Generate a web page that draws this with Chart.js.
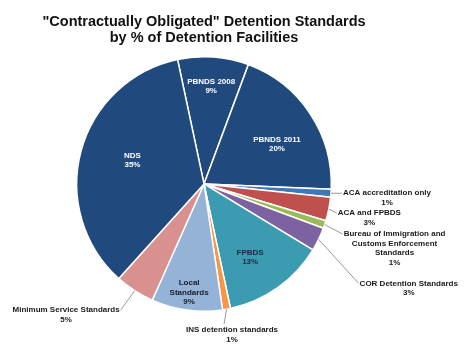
<!DOCTYPE html>
<html>
<head>
<meta charset="utf-8">
<script src="https://cdn.jsdelivr.net/npm/chart.js@4.4.0/dist/chart.umd.min.js"></script>
<style>
body { margin: 0; background: #fff; }
#wrap { width: 474px; height: 348px; }
</style>
</head>
<body>
<div id="wrap"><canvas id="myChart"></canvas></div>
<script>
var titleLines = ['"Contractually Obligated" Detention Standards', 'by % of Detention Facilities'];

var categories = ['PBNDS 2008', 'PBNDS 2011', 'ACA accreditation only', 'ACA and FPBDS',
  'Bureau of Immigration and Customs Enforcement Standards', 'COR Detention Standards',
  'FPBDS', 'INS detention standards', 'Local Standards', 'Minimum Service Standards', 'NDS'];
var percents = [9, 20, 1, 3, 1, 3, 13, 1, 9, 5, 35];
var labelLines = [
  ['PBNDS 2008'], ['PBNDS 2011'], ['ACA accreditation only'], ['ACA and FPBDS'],
  ['Bureau of Immigration and', 'Customs Enforcement', 'Standards'],
  ['COR Detention Standards'], ['FPBDS'], ['INS detention standards'],
  ['Local', 'Standards'], ['Minimum Service Standards'], ['NDS']
];
var sliceColors = ['#20497e', '#20497e', '#3f77b7', '#c0504d', '#9bbb59', '#7d62a1',
  '#3b9bb0', '#f79646', '#95b3d7', '#d9918f', '#20497e'];

// where each label sits (inside: fraction of radius, outside: leader line end offset)
var labelPlace = [
  {inside: true, r: 0.77, color: '#fff'},
  {inside: true, r: 0.66, dx: 3, dy: 7, color: '#fff'},
  {ex: 11, ey: 0, align: 'left'},
  {ex: 8, ey: 4, align: 'left'},
  {ex: 18, ey: 9.5, align: 'left'},
  {ex: 40, ey: 44, align: 'left'},
  {inside: true, r: 0.68, dx: -4, dy: 3, color: '#172b45'},
  {ex: -2.5, ey: 15, align: 'below', tx: 8},
  {inside: true, r: 0.86, color: '#161c2a'},
  {ex: -14, ey: 19.5, align: 'right'},
  {inside: true, r: 0.59, dx: 1, dy: -4, color: '#fff'}
];

var sliceLabels = {
  id: 'sliceLabels',
  afterDatasetsDraw: function(chart) {
    var ctx = chart.ctx;
    var arcs = chart.getDatasetMeta(0).data;
    var lh = 9.5;
    ctx.save();
    ctx.font = 'bold 8px "Liberation Sans", Arial, sans-serif';
    ctx.textBaseline = 'middle';
    ctx.textAlign = 'center';
    arcs.forEach(function(arc, i) {
      var p = arc.getProps(['x', 'y', 'startAngle', 'endAngle', 'outerRadius']);
      var mid = (p.startAngle + p.endAngle) / 2;
      var cfg = labelPlace[i];
      var lines = labelLines[i].concat([percents[i] + '%']);
      var w = 0;
      lines.forEach(function(l) { w = Math.max(w, ctx.measureText(l).width); });
      var bx, by;
      if (cfg.inside) {
        bx = p.x + Math.cos(mid) * p.outerRadius * cfg.r + (cfg.dx || 0);
        by = p.y + Math.sin(mid) * p.outerRadius * cfg.r + (cfg.dy || 0) - (lines.length - 1) * lh / 2;
        ctx.fillStyle = cfg.color;
      } else {
        var sx = p.x + Math.cos(mid) * p.outerRadius;
        var sy = p.y + Math.sin(mid) * p.outerRadius;
        var ex = sx + cfg.ex, ey = sy + cfg.ey;
        ctx.strokeStyle = '#9a9a9a';
        ctx.lineWidth = 1;
        ctx.beginPath();
        ctx.moveTo(sx, sy);
        ctx.lineTo(ex, ey);
        ctx.stroke();
        if (cfg.align === 'left') { bx = ex + 1 + w / 2; by = ey; }
        else if (cfg.align === 'right') { bx = ex - 1 - w / 2; by = ey; }
        else { bx = ex + (cfg.tx || 0); by = ey + 6; }
        ctx.fillStyle = '#1a1a1a';
      }
      lines.forEach(function(l, k) { ctx.fillText(l, bx, by + k * lh); });
    });
    ctx.restore();
  }
};

var ctx = document.getElementById('myChart');
var myChart = new Chart(ctx, {
  type: 'pie',
  data: {
    labels: categories,
    datasets: [{
      data: percents,
      backgroundColor: sliceColors,
      borderColor: '#ffffff',
      borderWidth: 1.5
    }]
  },
  options: {
    responsive: true,
    maintainAspectRatio: false,
    animation: false,
    rotation: -12,
    layout: { padding: { left: 0, right: 66, top: 4, bottom: 36 } },
    plugins: {
      legend: { display: false },
      tooltip: { enabled: false },
      title: {
        display: true,
        text: titleLines,
        color: '#111',
        font: { family: '"Liberation Sans", Arial, sans-serif', size: 14.5, weight: 'bold', lineHeight: 1.1 },
        padding: { top: 9.8, bottom: 10.2 }
      }
    }
  },
  plugins: [sliceLabels]
});
</script>
</body>
</html>
